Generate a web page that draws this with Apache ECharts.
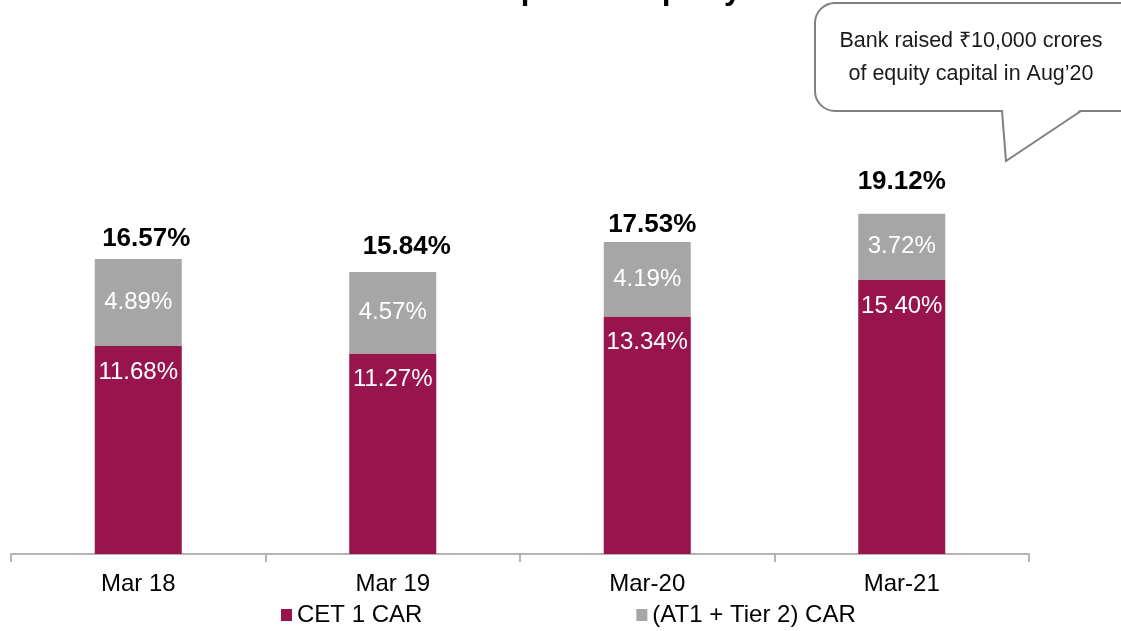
<!DOCTYPE html>
<html>
<head>
<meta charset="utf-8">
<script src="https://cdn.jsdelivr.net/npm/echarts@6/dist/echarts.min.js"></script>
<style>
  html, body { margin: 0; padding: 0; background: #ffffff; }
  #chart { width: 1121px; height: 631px; }
</style>
</head>
<body>
<div id="chart"></div>
<script>
// Capital adequacy ratio by year-end
const categories = ['Mar 18', 'Mar 19', 'Mar-20', 'Mar-21'];
const cet1 = [11.68, 11.27, 13.34, 15.40];
const at1Tier2 = [4.89, 4.57, 4.19, 3.72];
const totals = [16.57, 15.84, 17.53, 19.12];
const seriesNames = ['CET 1 CAR', '(AT1 + Tier 2) CAR'];
const calloutLines = ['Bank raised \u20B910,000 crores', 'of equity capital in Aug\u201920'];
const headingText = 'Capital Adequacy';

// small nudges for the total labels above each stack [dx, dy]
const totalLabelNudge = [[8, -7], [14, -12], [5, -4], [0, -19]];

const FONT = "'Liberation Sans', Arial, sans-serif";
const CRIMSON = '#97144D';
const GREY = '#A6A6A6';
const BUBBLE_LINE = '#808080';

const chart = echarts.init(document.getElementById('chart'), null, { renderer: 'canvas' });

const fmtPct = v => v.toFixed(2) + '%';

const option = {
  animation: false,
  backgroundColor: '#ffffff',
  textStyle: { fontFamily: FONT },
  grid: { left: 11, right: 92, top: 198, bottom: 77, containLabel: false },
  legend: {
    left: 281,
    top: 603,
    padding: 0,
    itemWidth: 11,
    itemHeight: 12,
    itemGap: 214,
    icon: 'rect',
    textStyle: { fontFamily: FONT, fontSize: 24, color: '#000000' },
    data: seriesNames
  },
  xAxis: {
    type: 'category',
    data: categories,
    axisLine: { lineStyle: { color: '#B4B4B4', width: 2 } },
    axisTick: { show: true, length: 8, lineStyle: { color: '#B4B4B4', width: 2 } },
    axisLabel: { fontFamily: FONT, fontSize: 24, color: '#000000', margin: 18 }
  },
  yAxis: {
    type: 'value',
    min: 0,
    max: 20,
    show: false,
    splitLine: { show: false }
  },
  series: [
    {
      name: seriesNames[0],
      type: 'bar',
      stack: 'car',
      barWidth: 87,
      itemStyle: { color: CRIMSON },
      label: {
        show: true,
        position: 'insideTop',
        distance: 14,
        fontFamily: FONT,
        fontSize: 24,
        color: '#ffffff',
        formatter: p => fmtPct(p.value)
      },
      data: cet1
    },
    {
      name: seriesNames[1],
      type: 'bar',
      stack: 'car',
      barWidth: 87,
      itemStyle: { color: GREY },
      label: {
        show: true,
        position: 'inside',
        fontFamily: FONT,
        fontSize: 24,
        color: '#ffffff',
        formatter: p => fmtPct(p.value)
      },
      data: at1Tier2
    },
    {
      // zero-height carrier for the stack totals, sitting on top of each stack
      name: 'total',
      type: 'bar',
      stack: 'car',
      barWidth: 87,
      silent: true,
      itemStyle: { color: 'transparent' },
      label: { show: false },
      data: totals.map((t, i) => ({
        value: 0,
        label: {
          show: true,
          position: 'top',
          distance: 0,
          offset: totalLabelNudge[i],
          fontFamily: FONT,
          fontSize: 26,
          fontWeight: 'bold',
          color: '#000000',
          formatter: () => fmtPct(t)
        }
      }))
    }
  ],
  graphic: [
    {
      // heading, mostly above the visible area
      type: 'text',
      x: 481,
      y: -10,
      style: {
        text: headingText,
        font: 'bold 31px ' + FONT,
        fill: '#000000',
        align: 'left',
        verticalAlign: 'middle'
      }
    },
    {
      // speech-bubble box
      type: 'rect',
      shape: { x: 815, y: 3, width: 330, height: 108, r: 20 },
      style: { fill: '#ffffff', stroke: BUBBLE_LINE, lineWidth: 2 }
    },
    {
      // bubble tail: white wedge hides the box edge, then its outline
      type: 'polygon',
      shape: { points: [[1003, 110], [1006, 160], [1080, 110]] },
      style: { fill: '#ffffff', stroke: null }
    },
    {
      type: 'polyline',
      shape: { points: [[1002, 111], [1006, 161], [1081, 111]] },
      style: { fill: null, stroke: BUBBLE_LINE, lineWidth: 2 }
    },
    {
      type: 'text',
      x: 971,
      y: 58,
      style: {
        text: calloutLines.join('\n'),
        font: '21.5px ' + FONT,
        fill: '#1a1a1a',
        align: 'center',
        verticalAlign: 'middle',
        lineHeight: 33
      }
    }
  ]
};

chart.setOption(option);
</script>
</body>
</html>
